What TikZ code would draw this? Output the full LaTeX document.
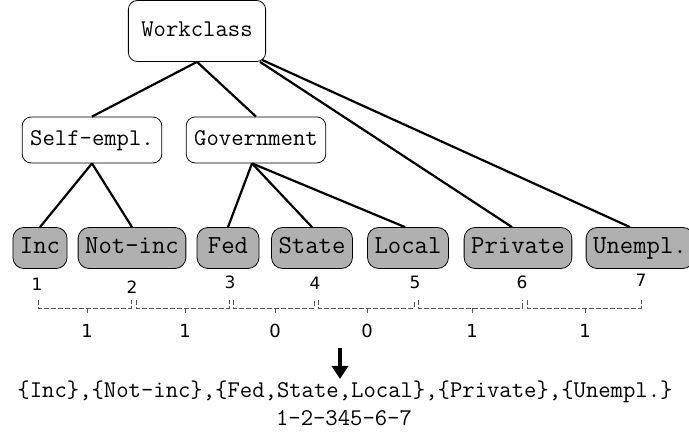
\documentclass[tikz,border=0pt]{standalone}
\usepackage{fontspec}
\newfontfamily\numfont{DejaVu Sans}
\usetikzlibrary{arrows.meta}
\definecolor{leafgray} {HTML}{B0B0B0}
\definecolor{brkgray}  {HTML}{555555}
\tikzset{
  inner/.style={draw,line width=0.8pt,rounded corners=9pt,fill=white,
    font=\ttfamily\fontsize{24}{28}\selectfont,inner xsep=8pt,
    text height=15pt,text depth=4pt,minimum height=46pt},
  leaf/.style={draw,line width=0.8pt,rounded corners=11pt,fill=leafgray,
    font=\ttfamily\fontsize{26}{30}\selectfont,inner xsep=7pt,
    text height=16pt,text depth=5pt,minimum height=41pt},
  num/.style={font=\numfont\fontsize{17}{20}\selectfont},
  edge/.style={line width=2.2pt},
  brk/.style={brkgray,line width=0.9pt,dash pattern=on 5pt off 2pt}
}

\begin{document}
\begin{tikzpicture}[x=1pt,y=-1pt]
\useasboundingbox (0,0) rectangle (689,435);
% tree
\node[inner,minimum height=61pt,inner xsep=13pt](workclass)at(197,31){Workclass};
\node[inner](selfempl)at(92,140){Self-empl.};
\node[inner](government)at(256,140){Government};
\node[leaf](inc)at(40,248){Inc};
\node[leaf](notinc)at(132,248){Not-inc};
\node[leaf,minimum width=62pt](fed)at(228,248){Fed};
\node[leaf](state)at(312,248){State};
\node[leaf](local)at(408,248){Local};
\node[leaf](private)at(518,248){Private};
\node[leaf](unempl)at(640,248){Unempl.};
\draw[edge](workclass.south)--(selfempl.north);
\draw[edge](workclass.south)--(government.north);
\draw[edge]([xshift=-6pt]workclass.south east)--([xshift=-6pt]private.north);
\draw[edge]([xshift=-4pt,yshift=2pt]workclass.south east)--([xshift=-10pt]unempl.north);
\draw[edge](selfempl.south)--(inc.north);
\draw[edge](selfempl.south)--(notinc.north);
\draw[edge]([xshift=-4pt]government.south)--(fed.north);
\draw[edge]([xshift=-4pt]government.south)--(state.north);
\draw[edge]([xshift=-4pt]government.south)--([xshift=-3pt]local.north);
% positions
\node[num](p1)at(37,284){1};
\node[num](p2)at(132,287){2};
\node[num](p3)at(230,282){3};
\node[num](p4)at(315,283){4};
\node[num](p5)at(415,282){5};
\node[num](p6)at(522,282){6};
\node[num](p7)at(641,280){7};
% brackets
\foreach \a/\b/\v/\m in {38/131/1/87,136/229/1/185,233/314/0/275,318/414/0/367,418/522/1/472,527/641/1/585}{
  \draw[brk](\a,300)--(\a,308)--(\b,308)--(\b,300);
  \draw[brkgray,line width=0.9pt](\m,308)--(\m,313);
  \node[num,font=\numfont\fontsize{18}{21}\selectfont]at(\m,331){\v};
}
% result
\coordinate(arrtop)at(340,348);
\node[font=\ttfamily\fontsize{24}{28}\selectfont](groups)at(345,392){\{Inc\},\{Not-inc\},\{Fed,State,Local\},\{Private\},\{Unempl.\}};
\node[font=\ttfamily\fontsize{24}{28}\selectfont](code)at(344,418){1-2-345-6-7};
\draw[line width=4pt,-{Triangle[length=13pt,width=16pt]}](arrtop)--(340,379);
\end{tikzpicture}
\end{document}
